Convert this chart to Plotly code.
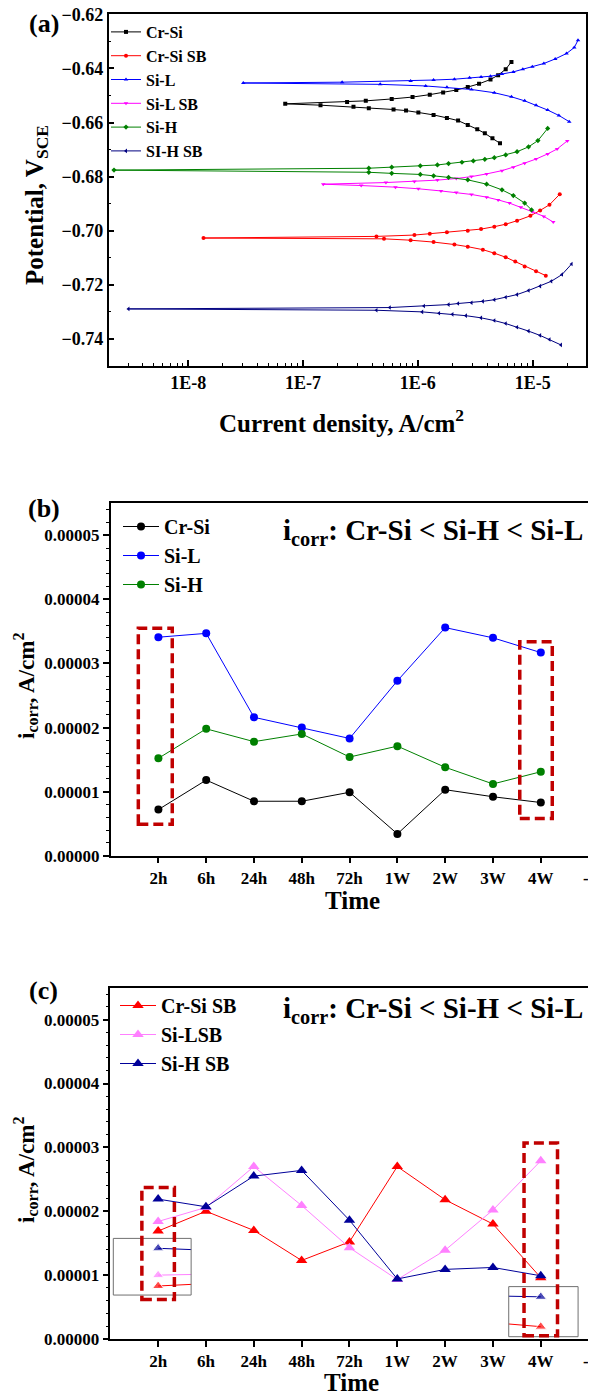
import plotly.graph_objects as go

FONT = "Liberation Serif, Times New Roman, serif"
# the page body adds an 8px offset; figure is sized so that it fills the 596x1395 window
OFF = 8
W, H = 588, 1387

# ---------------- Panel (a): Tafel curves (current density A/cm2, potential V) ----------------
# Cr-Si
crsi_i0, crsi_E0 = 7.0e-8, -0.6531
crsi_an_i = [2.42e-7, 3.52e-7, 5.92e-7, 8.99e-7, 1.27e-6, 1.66e-6, 2.16e-6, 2.72e-6, 3.41e-6, 4.29e-6, 5.00e-6, 5.82e-6, 6.53e-6]
crsi_an_E = [-0.6524, -0.6520, -0.6513, -0.6506, -0.6497, -0.6489, -0.6480, -0.6469, -0.6457, -0.6441, -0.6425, -0.6403, -0.6376]
crsi_ca_i = [1.42e-7, 2.75e-7, 3.74e-7, 6.14e-7, 7.89e-7, 1.01e-6, 1.37e-6, 1.79e-6, 2.24e-6, 2.72e-6, 3.29e-6, 3.83e-6, 4.46e-6, 5.19e-6]
crsi_ca_E = [-0.6536, -0.6542, -0.6547, -0.6552, -0.6556, -0.6563, -0.6572, -0.6583, -0.6593, -0.6609, -0.6625, -0.6640, -0.6658, -0.6677]

# Cr-Si SB
crsisb_i0, crsisb_E0 = 1.36e-8, -0.7027
crsisb_an_i = [4.36e-7, 9.33e-7, 1.27e-6, 1.79e-6, 2.72e-6, 3.55e-6, 4.63e-6, 5.82e-6, 7.31e-6, 9.55e-6, 1.16e-5, 1.40e-5, 1.72e-5]
crsisb_an_E = [-0.7021, -0.7016, -0.7011, -0.7006, -0.7000, -0.6994, -0.6985, -0.6976, -0.6963, -0.6945, -0.6925, -0.6904, -0.6865]
crsisb_ca_i = [5.07e-7, 8.65e-7, 1.37e-6, 2.08e-6, 2.72e-6, 3.68e-6, 4.63e-6, 5.82e-6, 7.05e-6, 8.51e-6, 1.07e-5, 1.30e-5]
crsisb_ca_E = [-0.7030, -0.7035, -0.7042, -0.7051, -0.7059, -0.7070, -0.7083, -0.7098, -0.7114, -0.7132, -0.7150, -0.7166]

# Si-L
sil_i0, sil_E0 = 3.02e-8, -0.6454
sil_an_i = [2.19e-7, 8.65e-7, 1.37e-6, 2.08e-6, 2.82e-6, 3.55e-6, 4.29e-6, 5.40e-6, 6.78e-6, 8.20e-6, 9.93e-6, 1.25e-5, 1.57e-5, 1.97e-5, 2.30e-5, 2.48e-5]
sil_an_E = [-0.6451, -0.6447, -0.6443, -0.6440, -0.6435, -0.6432, -0.6429, -0.6421, -0.6413, -0.6403, -0.6394, -0.6382, -0.6365, -0.6345, -0.6323, -0.6296]
sil_ca_i = [4.70e-7, 1.17e-6, 1.79e-6, 2.93e-6, 4.63e-6, 6.53e-6, 8.51e-6, 1.07e-5, 1.35e-5, 1.69e-5, 2.08e-5]
sil_ca_E = [-0.6459, -0.6465, -0.6470, -0.6478, -0.6490, -0.6505, -0.6520, -0.6536, -0.6554, -0.6574, -0.6597]

# Si-L SB
silsb_i0, silsb_E0 = 1.50e-7, -0.6828
silsb_an_i = [5.27e-7, 9.33e-7, 1.48e-6, 2.16e-6, 2.93e-6, 3.97e-6, 5.40e-6, 6.78e-6, 8.51e-6, 1.07e-5, 1.35e-5, 1.63e-5, 2.00e-5]
silsb_an_E = [-0.6822, -0.6818, -0.6813, -0.6807, -0.6800, -0.6790, -0.6778, -0.6765, -0.6751, -0.6735, -0.6716, -0.6698, -0.6668]
silsb_ca_i = [3.21e-7, 6.38e-7, 1.01e-6, 1.59e-6, 2.16e-6, 2.93e-6, 3.97e-6, 5.00e-6, 6.28e-6, 7.89e-6, 9.93e-6, 1.25e-5, 1.51e-5]
silsb_ca_E = [-0.6833, -0.6839, -0.6845, -0.6853, -0.6859, -0.6866, -0.6876, -0.6886, -0.6898, -0.6913, -0.6930, -0.6947, -0.6968]

# Si-H
sih_i0, sih_E0 = 2.26e-9, -0.6776
sih_an_i = [3.74e-7, 5.92e-7, 1.05e-6, 1.48e-6, 1.85e-6, 2.42e-6, 3.04e-6, 3.83e-6, 4.63e-6, 5.82e-6, 7.31e-6, 9.20e-6, 1.11e-5, 1.35e-5]
sih_an_E = [-0.6769, -0.6765, -0.6760, -0.6757, -0.6752, -0.6747, -0.6742, -0.6736, -0.6730, -0.6720, -0.6708, -0.6690, -0.6667, -0.6622]
sih_ca_i = [3.74e-7, 5.92e-7, 1.05e-6, 1.37e-6, 1.85e-6, 2.72e-6, 3.97e-6, 5.40e-6, 6.78e-6, 8.51e-6, 9.77e-6]
sih_ca_E = [-0.6784, -0.6788, -0.6792, -0.6797, -0.6803, -0.6812, -0.6828, -0.6849, -0.6870, -0.6898, -0.6923]

# SI-H SB
sihsb_i0, sihsb_E0 = 3.02e-9, -0.7289
sihsb_an_i = [5.69e-7, 1.13e-6, 1.85e-6, 2.24e-6, 2.93e-6, 3.68e-6, 4.63e-6, 5.82e-6, 7.31e-6, 9.20e-6, 1.16e-5, 1.45e-5, 1.80e-5, 2.18e-5]
sihsb_an_E = [-0.7284, -0.7278, -0.7273, -0.7269, -0.7266, -0.7261, -0.7255, -0.7246, -0.7236, -0.7221, -0.7205, -0.7187, -0.7162, -0.7123]
sihsb_ca_i = [4.36e-7, 1.09e-6, 1.53e-6, 2.00e-6, 2.62e-6, 3.55e-6, 4.63e-6, 5.82e-6, 7.31e-6, 9.20e-6, 1.16e-5, 1.40e-5, 1.76e-5]
sihsb_ca_E = [-0.7294, -0.7300, -0.7305, -0.7309, -0.7314, -0.7322, -0.7332, -0.7343, -0.7357, -0.7371, -0.7387, -0.7402, -0.7422]

# ---------------- Panels (b) and (c): i_corr vs time ----------------
time_labels = ["2h", "6h", "24h", "48h", "72h", "1W", "2W", "3W", "4W", "--"]

b_crsi = [7.2e-6, 1.18e-5, 8.5e-6, 8.5e-6, 9.9e-6, 3.4e-6, 1.03e-5, 9.2e-6, 8.3e-6]
b_sil = [3.41e-5, 3.47e-5, 2.16e-5, 2.00e-5, 1.83e-5, 2.73e-5, 3.56e-5, 3.40e-5, 3.17e-5]
b_sih = [1.52e-5, 1.98e-5, 1.78e-5, 1.90e-5, 1.54e-5, 1.71e-5, 1.38e-5, 1.12e-5, 1.31e-5]

c_crsisb = [1.69e-5, 2.00e-5, 1.70e-5, 1.23e-5, 1.52e-5, 2.70e-5, 2.18e-5, 1.80e-5, 9.6e-6]
c_silsb = [1.84e-5, 2.06e-5, 2.70e-5, 2.09e-5, 1.43e-5, 9.3e-6, 1.39e-5, 2.02e-5, 2.79e-5]
c_sihsb = [2.19e-5, 2.07e-5, 2.55e-5, 2.64e-5, 1.86e-5, 9.4e-6, 1.09e-5, 1.12e-5, 9.9e-6]

# inset (boxed) values at 2h: [value at 2h, value at box edge]
c_in2h_sihsb = [1.42e-5, 1.40e-5]
c_in2h_silsb = [1.00e-5, 1.01e-5]
c_in2h_crsisb = [8.3e-6, 8.55e-6]
# inset (boxed) values at 4W: [value at box edge, value at 4W]
c_in4w_sihsb = [6.7e-6, 6.6e-6]
c_in4w_crsisb = [2.35e-6, 1.93e-6]

fig = go.Figure()

def px(v):
    return (v - OFF) / W

def py(v):
    return 1 - (v - OFF) / H

def tafel(name, color, symbol, i0, E0, an_i, an_E, ca_i, ca_E):
    x = list(reversed(ca_i)) + [i0] + list(an_i)
    y = list(reversed(ca_E)) + [E0] + list(an_E)
    fig.add_trace(go.Scatter(x=x, y=y, name=name, mode="lines+markers",
                             line=dict(color=color, width=1),
                             marker=dict(color=color, symbol=symbol, size=4),
                             xaxis="x", yaxis="y", legend="legend"))

tafel("Cr-Si", "#000000", "square", crsi_i0, crsi_E0, crsi_an_i, crsi_an_E, crsi_ca_i, crsi_ca_E)
tafel("Cr-Si SB", "#ff0000", "circle", crsisb_i0, crsisb_E0, crsisb_an_i, crsisb_an_E, crsisb_ca_i, crsisb_ca_E)
tafel("Si-L", "#0000ff", "triangle-up", sil_i0, sil_E0, sil_an_i, sil_an_E, sil_ca_i, sil_ca_E)
tafel("Si-L SB", "#ff00ff", "triangle-down", silsb_i0, silsb_E0, silsb_an_i, silsb_an_E, silsb_ca_i, silsb_ca_E)
tafel("Si-H", "#008000", "diamond", sih_i0, sih_E0, sih_an_i, sih_an_E, sih_ca_i, sih_ca_E)
tafel("SI-H SB", "#000080", "triangle-left", sihsb_i0, sihsb_E0, sihsb_an_i, sihsb_an_E, sihsb_ca_i, sihsb_ca_E)

xpos = list(range(1, len(b_crsi) + 1))

for name, vals, color in [("Cr-Si", b_crsi, "#000000"), ("Si-L", b_sil, "#0000ff"), ("Si-H", b_sih, "#008000")]:
    fig.add_trace(go.Scatter(x=xpos, y=vals, name=name, mode="lines+markers",
                             line=dict(color=color, width=1),
                             marker=dict(color=color, symbol="circle", size=8),
                             xaxis="x2", yaxis="y2", legend="legend2"))

for name, vals, color in [("Cr-Si SB", c_crsisb, "#ff0000"), ("Si-LSB", c_silsb, "#ff80ff"), ("Si-H SB", c_sihsb, "#000099")]:
    fig.add_trace(go.Scatter(x=xpos, y=vals, name=name, mode="lines+markers",
                             line=dict(color=color, width=1),
                             marker=dict(color=color, symbol="triangle-up", size=10),
                             xaxis="x3", yaxis="y3", legend="legend3"))

# inset series (panel c)
for vals, color in [(c_in2h_sihsb, "#000099"), (c_in2h_silsb, "#ff80ff"), (c_in2h_crsisb, "#ff0000")]:
    fig.add_trace(go.Scatter(x=[1, 1.69], y=vals, mode="lines+markers", showlegend=False,
                             line=dict(color=color, width=1),
                             marker=dict(color=color, symbol="triangle-up", size=[10, 0]),
                             xaxis="x3", yaxis="y3"))
for vals, color in [(c_in4w_sihsb, "#000099"), (c_in4w_crsisb, "#ff0000")]:
    fig.add_trace(go.Scatter(x=[8.33, 9], y=vals, mode="lines+markers", showlegend=False,
                             line=dict(color=color, width=1),
                             marker=dict(color=color, symbol="triangle-up", size=[0, 10]),
                             xaxis="x3", yaxis="y3"))

# ---------------- Shapes ----------------
shapes = []
def rect(xr, yr, x0, x1, y0, y1, color, width, dash):
    shapes.append(dict(type="rect", xref=xr, yref=yr, x0=x0, x1=x1, y0=y0, y1=y1,
                       line=dict(color=color, width=width, dash=dash), layer="above"))

rect("x3", "y3", 0.063, 1.69, 0.688e-5, 1.575e-5, "#707070", 1, "solid")
rect("x3", "y3", 8.33, 9.78, 0.036e-5, 0.82e-5, "#707070", 1, "solid")
rect("x2", "y2", 0.58, 1.29, 0.49e-5, 3.55e-5, "#c00000", 3.5, "10px,5px")
rect("x2", "y2", 8.56, 9.24, 0.58e-5, 3.34e-5, "#c00000", 3.5, "10px,5px")
rect("x3", "y3", 0.66, 1.34, 0.62e-5, 2.37e-5, "#c00000", 3.5, "10px,5px")
rect("x3", "y3", 8.65, 9.35, 0.05e-5, 3.07e-5, "#c00000", 3.5, "10px,5px")

# ---------------- Annotations ----------------
ann = []
def text(t, x, y, size, xanchor="center", yanchor="middle", angle=0):
    ann.append(dict(text=t, xref="paper", yref="paper", x=px(x), y=py(y), showarrow=False,
                    xanchor=xanchor, yanchor=yanchor, textangle=angle,
                    font=dict(family=FONT, size=size, color="black", weight="bold")))

text("(a)", 44, 23, 26)
text("(b)", 44, 509, 26)
text("(c)", 43, 990, 26)
text("Potential, V<sub>SCE</sub>", 37, 205, 25, angle=-90)
text("Current density, A/cm<sup>2</sup>", 341, 421, 25)
text("i<sub>corr</sub>, A/cm<sup>2</sup>", 25, 686, 23, angle=-90)
text("Time", 352, 900, 25)
text("i<sub>corr</sub>, A/cm<sup>2</sup>", 25, 1170, 23, angle=-90)
text("Time", 351, 1382, 25)
text("i<sub>corr</sub>: Cr-Si &lt; Si-H &lt; Si-L", 585, 532, 29, xanchor="right")
text("i<sub>corr</sub>: Cr-Si &lt; Si-H &lt; Si-L", 585, 1010, 29, xanchor="right")

# ---------------- Axes ----------------
tickfont = dict(family=FONT, size=18, color="black", weight="bold")
tickfont2 = dict(family=FONT, size=17, color="black", weight="bold")
axbase = dict(showline=True, linecolor="black", linewidth=1.5, mirror=True,
              showgrid=False, zeroline=False, tickcolor="black", tickwidth=1.5,
              ticklabeloverflow="allow")

decades = [1e-8, 1e-7, 1e-6, 1e-5]
minor_vals = [m * d for d in [1e-9, 1e-8, 1e-7, 1e-6, 1e-5] for m in range(2, 10)]
pot_ticks = [-0.74, -0.72, -0.70, -0.68, -0.66, -0.64, -0.62]

legfont = lambda s: dict(family=FONT, size=s, color="black", weight="bold")

layout = dict(
    width=W, height=H, paper_bgcolor="white", plot_bgcolor="white",
    margin=dict(l=0, r=0, t=0, b=0, autoexpand=False),
    font=dict(family=FONT, color="black"),
    shapes=shapes, annotations=ann,
    xaxis=dict(axbase, type="log", range=[-8.692, -4.536], domain=[px(108.7), px(586)],
               tickmode="array", tickvals=decades, ticktext=["1E-8", "1E-7", "1E-6", "1E-5"],
               ticks="inside", ticklen=6, tickfont=tickfont, anchor="y",
               minor=dict(tickmode="array", tickvals=minor_vals, ticks="inside", ticklen=3,
                          tickcolor="black", tickwidth=1)),
    yaxis=dict(axbase, range=[-0.75, -0.6199], domain=[py(366), py(14)],
               tickmode="array", tickvals=pot_ticks, tickformat=".2f",
               ticks="inside", ticklen=6, tickfont=tickfont, anchor="x",
               minor=dict(tickmode="linear", tick0=-0.75, dtick=0.01, ticks="inside", ticklen=3,
                          tickcolor="black", tickwidth=1)),
    xaxis2=dict(axbase, range=[0, 10], domain=[px(110.6), min(1.0, px(588.6))],
                tickmode="array", tickvals=list(range(1, 11)), ticktext=time_labels,
                ticks="outside", ticklen=6, tickfont=tickfont2, anchor="y2"),
    yaxis2=dict(axbase, range=[0, 5.5e-5], domain=[py(855.7), py(503.3)],
                tickmode="linear", tick0=0, dtick=1e-5, tickformat=".5f",
                ticks="outside", ticklen=6, tickfont=tickfont2, anchor="x2",
                minor=dict(dtick=2e-6, ticks="outside", ticklen=3, tickcolor="black", tickwidth=1)),
    xaxis3=dict(axbase, range=[0, 10], domain=[px(110.3), min(1.0, px(588.6))],
                tickmode="array", tickvals=list(range(1, 11)), ticktext=time_labels,
                ticks="outside", ticklen=6, tickfont=tickfont2, anchor="y3"),
    yaxis3=dict(axbase, range=[0, 5.5e-5], domain=[py(1339), py(987.7)],
                tickmode="linear", tick0=0, dtick=1e-5, tickformat=".5f",
                ticks="outside", ticklen=6, tickfont=tickfont2, anchor="x3",
                minor=dict(dtick=2e-6, ticks="outside", ticklen=3, tickcolor="black", tickwidth=1)),
    legend=dict(xref="container", yref="container", x=px(106), y=py(15),
                xanchor="left", yanchor="top", bgcolor="rgba(0,0,0,0)",
                font=legfont(16), itemwidth=30, tracegroupgap=0),
    legend2=dict(xref="container", yref="container", x=px(118), y=py(507),
                 xanchor="left", yanchor="top", bgcolor="rgba(0,0,0,0)",
                 font=legfont(20), itemwidth=36, tracegroupgap=0),
    legend3=dict(xref="container", yref="container", x=px(115), y=py(986),
                 xanchor="left", yanchor="top", bgcolor="rgba(0,0,0,0)",
                 font=legfont(20), itemwidth=36, tracegroupgap=0),
    showlegend=True,
)
fig.update_layout(**layout)
fig.write_html("out.html")
